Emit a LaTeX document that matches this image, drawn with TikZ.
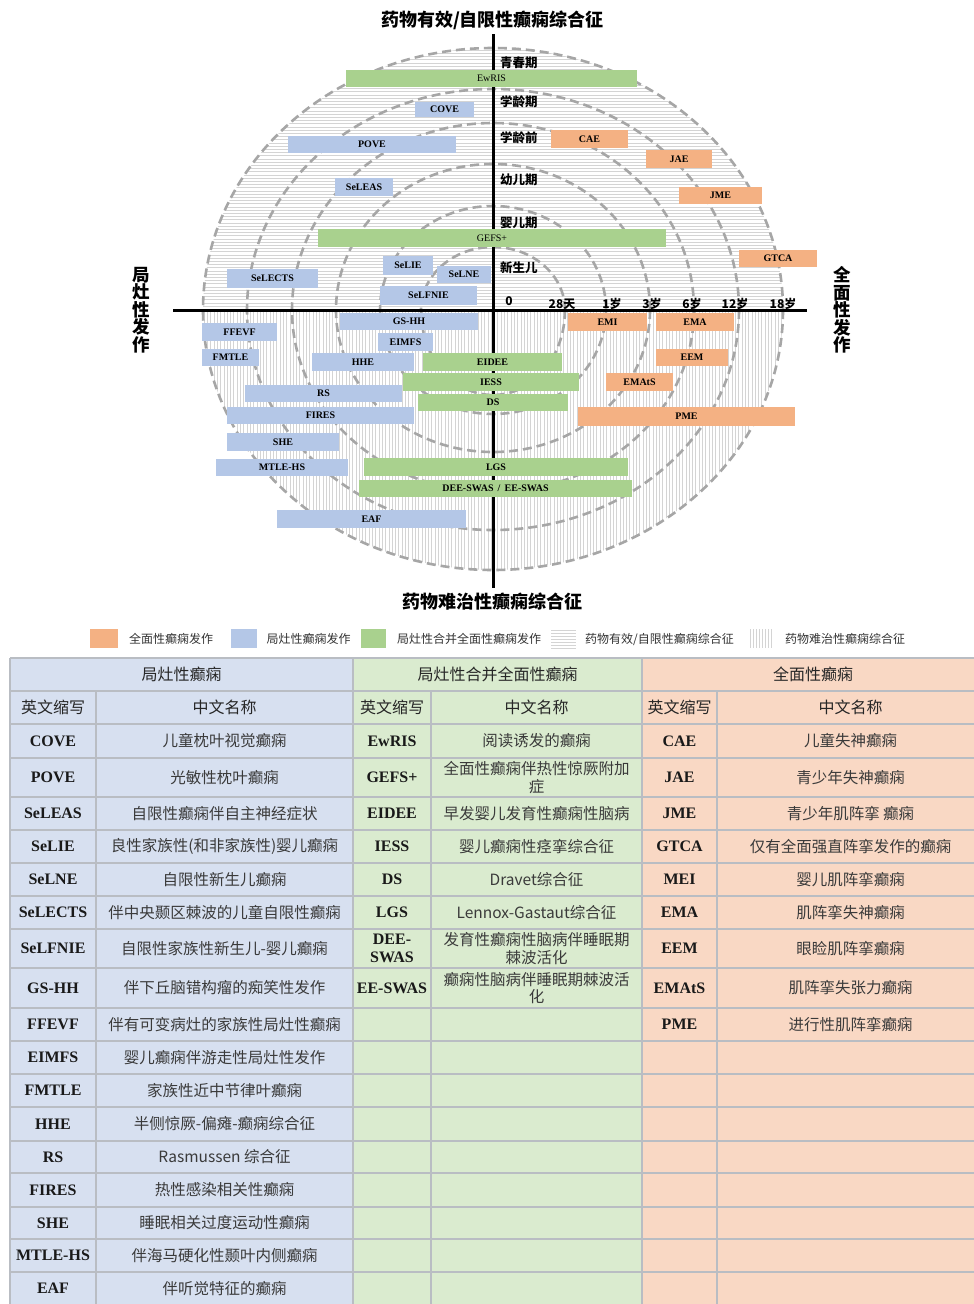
\documentclass[tikz,border=0pt]{standalone}
\usepackage{fontspec}
\setmainfont{Liberation Serif}
\newfontfamily\cjk{Noto Sans CJK SC}
\definecolor{bxO}{HTML}{F4B183}
\definecolor{bxB}{HTML}{B4C7E7}
\definecolor{bxG}{HTML}{A9D18E}
\definecolor{tbB}{HTML}{D7E0F0}
\definecolor{tbG}{HTML}{DAEBCF}
\definecolor{tbO}{HTML}{F9D8C4}
\definecolor{arcG}{HTML}{A6A6A6}
\definecolor{hatchC}{HTML}{D4D4D4}
\definecolor{gridC}{HTML}{B9BDC3}
\definecolor{txtC}{HTML}{333333}
\definecolor{nameC}{HTML}{3A3A3A}
\tikzset{
  bxs/.style={inner sep=0pt, outer sep=0pt, font=\fontsize{10}{12}\selectfont\bfseries, text=black},
  arcd/.style={draw=arcG, line width=2.6pt, dash pattern=on 9pt off 5pt},
  hatchl/.style={draw=hatchC, line width=0.5pt},
  axisl/.style={line width=3pt, draw=black},
  tickl/.style={font=\cjk\bfseries\fontsize{12}{14}\selectfont, inner sep=0pt},
  perl/.style={font=\cjk\bfseries\fontsize{12.5}{14}\selectfont, inner sep=0pt, anchor=west},
  sidel/.style={font=\cjk\bfseries\fontsize{17.5}{17.5}\selectfont, inner sep=0pt, align=center},
  ttl/.style={font=\cjk\bfseries\fontsize{18}{20}\selectfont, inner sep=0pt},
  lgsq/.style={inner sep=0pt, minimum height=19pt},
  lgtx/.style={font=\cjk\fontsize{12}{14}\selectfont, text=txtC, inner sep=0pt, anchor=west},
  ab/.style={font=\fontsize{16}{17.7}\selectfont\bfseries, text=black!90, inner sep=0pt, align=center},
  nm/.style={font=\cjk\fontsize{15.5}{17.7}\selectfont, text=nameC, inner sep=0pt, align=center},
  hd/.style={font=\cjk\fontsize{16}{18}\selectfont, text=black!85, inner sep=0pt},
  gridl/.style={draw=gridC, line width=1.6pt},
}
\newcommand\bx[7]{\node[bxs, fill=#1, minimum width={(#5)-(#3)}, minimum height={(#6)-(#4)}] (#2) at ({((#3)+(#5))/2},{((#4)+(#6))/2}) {#7};}
\newcommand\TRow[8]{%
  \node[ab] (#1a1) at (53,#2) {#3};
  \node[nm] (#1n1) at (224.5,#2) {#4};
  \if\relax\detokenize{#5}\relax\else
    \node[ab] (#1a2) at (392,#2) {#5};
    \node[nm] (#1n2) at (536.5,#2) {#6};
  \fi
  \if\relax\detokenize{#7}\relax\else
    \node[ab] (#1a3) at (679.5,#2) {#7};
    \node[nm] (#1n3) at (850.5,#2) {#8};
  \fi}
\begin{document}
\begin{tikzpicture}[x=1pt,y=-1pt]
\useasboundingbox (0,0) rectangle (974,1304);
\fill[white] (0,0) rectangle (974,1304);

% hatching
\begin{scope}
  \clip (203,310) arc[start angle=180,end angle=360,x radius=290,y radius=262] -- cycle;
  \foreach \y in {50,53.2,...,309} \draw[hatchl] (200,\y) -- (790,\y);
\end{scope}
\begin{scope}
  \clip (783,310) arc[start angle=0,end angle=180,x radius=290,y radius=260] -- cycle;
  \foreach \x in {204,207.3,...,782} \draw[hatchl] (\x,311) -- (\x,572);
\end{scope}

% dashed arcs
\foreach \rx/\ru/\rd in {72/63/85, 113/104/104, 157/146/142, 201/187/182, 246/221/220, 290/262/260}{
  \draw[arcd] ({493+\rx},310) arc[start angle=0,end angle=-180,x radius=\rx,y radius=\ru];
  \draw[arcd] ({493+\rx},310) arc[start angle=0,end angle=180,x radius=\rx,y radius=\rd];
}

% axes
\coordinate (vtop) at (493,34);
\coordinate (vbot) at (493,588);
\coordinate (hl) at (173,310);
\coordinate (hr) at (807,310);
\draw[axisl] (vtop) -- (vbot);
\draw[axisl] (hl) -- (hr);

% titles
\node[ttl] (ttop) at (492.5,20) {药物有效/自限性癫痫综合征};
\node[ttl] (tbot) at (492.5,602) {药物难治性癫痫综合征};
\node[sidel] (tleft) at (141,310) {局\\灶\\性\\发\\作};
\node[sidel] (tright) at (842,310) {全\\面\\性\\发\\作};

% ticks
\node[tickl] (k0) at (509,301) {0};
\node[tickl] (k1) at (562,304) {28天};
\node[tickl] (k2) at (612,304) {1岁};
\node[tickl] (k3) at (652,304) {3岁};
\node[tickl] (k4) at (692,304) {6岁};
\node[tickl] (k5) at (735,304) {12岁};
\node[tickl] (k6) at (783,304) {18岁};

% periods
\node[perl] (p1) at (500,63) {青春期};
\node[perl] (p2) at (500,102) {学龄期};
\node[perl] (p3) at (500,138) {学龄前};
\node[perl] (p4) at (500,180) {幼儿期};
\node[perl] (p5) at (500,223) {婴儿期};
\node[perl] (p6) at (500,268) {新生儿};

% boxes
\bx{bxG}{bEwRIS}{346}{70}{637}{87}{\mdseries EwRIS}
\bx{bxB}{bCOVE}{415}{102}{474}{117}{COVE}
\bx{bxB}{bPOVE}{288}{136}{456}{153}{POVE}
\bx{bxB}{bSeLEAS}{335}{178}{393}{196}{SeLEAS}
\bx{bxO}{bCAE}{551}{130}{628}{148}{CAE}
\bx{bxO}{bJAE}{646}{150}{712}{168}{JAE}
\bx{bxO}{bJME}{679}{187}{762}{204}{JME}
\bx{bxG}{bGEFS}{318}{229}{666}{247}{\mdseries GEFS+}
\bx{bxO}{bGTCA}{739}{250}{817}{267}{GTCA}
\bx{bxB}{bSeLECTS}{227}{269}{318}{288}{SeLECTS}
\bx{bxB}{bSeLIE}{383}{256}{433}{275}{SeLIE}
\bx{bxB}{bSeLNE}{437}{266}{491}{283}{SeLNE}
\bx{bxB}{bSeLFNIE}{380}{286}{477}{305}{SeLFNIE}
\bx{bxB}{bGSHH}{340}{313}{478}{330}{GS-HH}
\bx{bxO}{bEMI}{568}{313}{647}{331}{EMI}
\bx{bxO}{bEMA}{656}{313}{734}{331}{EMA}
\bx{bxB}{bFFEVF}{202}{323}{277}{341}{FFEVF}
\bx{bxB}{bEIMFS}{378}{333}{433}{351}{EIMFS}
\bx{bxB}{bFMTLE}{202}{349}{259}{366}{FMTLE}
\bx{bxO}{bEEM}{656}{349}{728}{366}{EEM}
\bx{bxB}{bHHE}{312}{353}{414}{371}{HHE}
\bx{bxG}{bEIDEE}{423}{353}{562}{371}{EIDEE}
\bx{bxG}{bIESS}{403}{373}{579}{391}{IESS}
\bx{bxO}{bEMAtS}{606}{373}{673}{391}{EMAtS}
\bx{bxB}{bRS}{245}{385}{402}{402}{RS}
\bx{bxG}{bDS}{418}{394}{568}{411}{DS}
\bx{bxB}{bFIRES}{227}{407}{414}{424}{FIRES}
\bx{bxO}{bPME}{578}{407}{795}{426}{PME}
\bx{bxB}{bSHE}{227}{433}{339}{451}{SHE}
\bx{bxB}{bMTLEHS}{216}{459}{348}{476}{MTLE-HS}
\bx{bxG}{bLGS}{364}{458}{628}{476}{LGS}
\bx{bxG}{bDEESWAS}{359}{480}{632}{497}{DEE-SWAS \,/\, EE-SWAS}
\bx{bxB}{bEAF}{277}{510}{466}{528}{EAF}

% legend
\node[lgsq, fill=bxO, minimum width=28pt] (lgO) at (104,638.5) {};
\node[lgtx] (lgOt) at (129,639) {全面性癫痫发作};
\node[lgsq, fill=bxB, minimum width=26pt] (lgB) at (244,638.5) {};
\node[lgtx] (lgBt) at (266.5,639) {局灶性癫痫发作};
\node[lgsq, fill=bxG, minimum width=25pt] (lgG) at (373.5,638.5) {};
\node[lgtx] (lgGt) at (397,639) {局灶性合并全面性癫痫发作};
\foreach \y in {630,633,...,648} \draw[hatchl] (551,\y) -- (576,\y);
\node[lgtx] (lgHt) at (585,639) {药物有效/自限性癫痫综合征};
\foreach \x in {750,753,...,772} \draw[hatchl] (\x,629) -- (\x,648);
\node[lgtx] (lgVt) at (785,639) {药物难治性癫痫综合征};

% table backgrounds
\fill[tbB] (10,658) rectangle (353,1305);
\fill[tbG] (353,658) rectangle (642,1305);
\fill[tbO] (642,658) rectangle (984,1305);
\foreach \y in {658,691,724,758,797,830,863,896,929,968,1008,1041,1074,1107,1141,1173,1207,1239,1272}
  \draw[gridl] (10,\y) -- (984,\y);
\foreach \x in {10,353,642} \draw[gridl] (\x,658) -- (\x,1305);
\foreach \x in {96,431,717} \draw[gridl] (\x,691) -- (\x,1305);

% table headers
\node[hd] (h1) at (181.5,674.5) {局灶性癫痫};
\node[hd] (h2) at (497.5,674.5) {局灶性合并全面性癫痫};
\node[hd] (h3) at (813,674.5) {全面性癫痫};
\node[hd] (h1a) at (53,707.5) {英文缩写};
\node[hd] (h1b) at (224.5,707.5) {中文名称};
\node[hd] (h2a) at (392,707.5) {英文缩写};
\node[hd] (h2b) at (536.5,707.5) {中文名称};
\node[hd] (h3a) at (679.5,707.5) {英文缩写};
\node[hd] (h3b) at (850.5,707.5) {中文名称};

% table rows
\TRow{ra}{741}{COVE}{儿童枕叶视觉癫痫}{EwRIS}{阅读诱发的癫痫}{CAE}{儿童失神癫痫}
\TRow{rb}{777.5}{POVE}{光敏性枕叶癫痫}{GEFS+}{全面性癫痫伴热性惊厥附加\\症}{JAE}{青少年失神癫痫}
\TRow{rc}{813.5}{SeLEAS}{自限性癫痫伴自主神经症状}{EIDEE}{早发婴儿发育性癫痫性脑病}{JME}{青少年肌阵挛 癫痫}
\TRow{rd}{846.5}{SeLIE}{良性家族性(和非家族性)婴儿癫痫}{IESS}{婴儿癫痫性痉挛综合征}{GTCA}{仅有全面强直阵挛发作的癫痫}
\TRow{re}{879.5}{SeLNE}{自限性新生儿癫痫}{DS}{Dravet综合征}{MEI}{婴儿肌阵挛癫痫}
\TRow{rf}{912.5}{SeLECTS}{伴中央颞区棘波的儿童自限性癫痫}{LGS}{Lennox-Gastaut综合征}{EMA}{肌阵挛失神癫痫}
\TRow{rg}{948.5}{SeLFNIE}{自限性家族性新生儿-婴儿癫痫}{DEE-\\SWAS}{发育性癫痫性脑病伴睡眠期\\棘波活化}{EEM}{眼睑肌阵挛癫痫}
\TRow{rh}{988}{GS-HH}{伴下丘脑错构瘤的痴笑性发作}{EE-SWAS}{癫痫性脑病伴睡眠期棘波活\\化}{EMAtS}{肌阵挛失张力癫痫}
\TRow{ri}{1024.5}{FFEVF}{伴有可变病灶的家族性局灶性癫痫}{}{}{PME}{进行性肌阵挛癫痫}
\TRow{rj}{1057.5}{EIMFS}{婴儿癫痫伴游走性局灶性发作}{}{}{}{}
\TRow{rk}{1090.5}{FMTLE}{家族性近中节律叶癫痫}{}{}{}{}
\TRow{rl}{1124}{HHE}{半侧惊厥-偏瘫-癫痫综合征}{}{}{}{}
\TRow{rm}{1157}{RS}{Rasmussen 综合征}{}{}{}{}
\TRow{rn}{1190}{FIRES}{热性感染相关性癫痫}{}{}{}{}
\TRow{ro}{1223}{SHE}{睡眠相关过度运动性癫痫}{}{}{}{}
\TRow{rp}{1255.5}{MTLE-HS}{伴海马硬化性颞叶内侧癫痫}{}{}{}{}
\TRow{rq}{1288.5}{EAF}{伴听觉特征的癫痫}{}{}{}{}
\end{tikzpicture}
\end{document}
